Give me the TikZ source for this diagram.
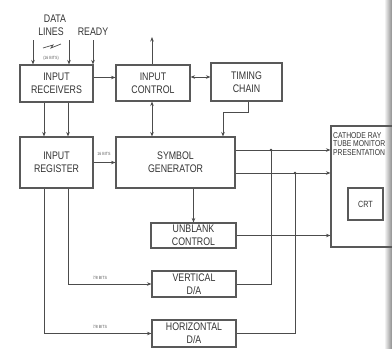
\documentclass[tikz,border=0pt]{standalone}
\usepackage{fontspec}
\setmainfont{Liberation Sans}[FakeStretch=0.8]
\usetikzlibrary{arrows.meta,calc}
\begin{document}
\begin{tikzpicture}[x=1pt,y=-1pt,
  line/.style={draw=black!70, line width=0.9pt},
  arr/.style={line, -{Stealth[length=4.5pt,width=3.5pt]}},
  darr/.style={line, {Stealth[length=4.5pt,width=3.5pt]}-{Stealth[length=4.5pt,width=3.5pt]}},
  box/.style={draw=black!65, line width=1.1pt, inner sep=0pt, align=center, font=\fontsize{11}{13}\selectfont, text=black!80},
  lbl/.style={font=\fontsize{11}{13}\selectfont, text=black!80, inner sep=0pt},
  tiny/.style={font=\fontsize{4.5}{5}\selectfont, text=black!65, inner sep=0pt},
  dot/.style={circle, fill=black!75, inner sep=0pt, minimum size=2.6pt}]
\useasboundingbox (0,0) rectangle (392,349);
\clip (0,0) rectangle (392,349);
\shade[left color=white, right color=black!45] (384,0) rectangle (392,349);

% top labels
\node[lbl] (data) at (55,19) {DATA};
\node[lbl] (lines) at (51,32) {LINES};
\node[lbl] (ready) at (93,32) {READY};

% boxes
\node[box, minimum width=73pt, minimum height=37pt] (recv) at (56.5,83.5) {INPUT\\RECEIVERS};
\node[box, minimum width=74pt, minimum height=36pt] (ic) at (153,83) {INPUT\\CONTROL};
\node[box, minimum width=71pt, minimum height=38pt] (tc) at (246.5,82) {TIMING\\CHAIN};
\node[box, minimum width=73pt, minimum height=51pt] (reg) at (56.5,162.5) {INPUT\\REGISTER};
\node[box, minimum width=119pt, minimum height=51pt] (sg) at (175.5,162.5) {SYMBOL\\GENERATOR};
\node[box, minimum width=85pt, minimum height=25pt] (ub) at (193.5,235.5) {UNBLANK\\CONTROL};
\node[box, minimum width=84pt, minimum height=26pt] (vda) at (194,284) {VERTICAL\\D/A};
\node[box, minimum width=84pt, minimum height=27pt] (hda) at (194,333.5) {HORIZONTAL\\D/A};
\node[box, minimum width=80pt, minimum height=121pt] (mon) at (371,186.5) {};
\node[anchor=north west, align=left, inner sep=0pt, text=black!80, font=\fontsize{8.5}{8.7}\selectfont] (montitle) at (333,132) {CATHODE RAY\\TUBE MONITOR\\PRESENTATION};
\node[box, minimum width=35pt, minimum height=32pt, font=\fontsize{9}{10}\selectfont] (crt) at (365.5,204) {CRT};

% input lines
\coordinate (d1) at (33,40);
\coordinate (d2) at (69,40);
\coordinate (rdy) at (93,40);
\draw[arr] (d1) -- (d1 |- recv.north);
\draw[arr] (d2) -- (d2 |- recv.north);
\draw[arr] (rdy) -- (rdy |- recv.north);
\draw[line, line width=0.7pt] (43,48) -- (53,45) -- (51,48) -- (61,44);
\node[tiny] (bits0) at (51,58) {(16 BITS)};

% input control
\coordinate (up) at (152,37);
\draw[arr] (ic.north -| up) -- (up);
\draw[arr] ([yshift=6pt]recv.east) -- ([yshift=6pt]recv.east -| ic.west);
\draw[darr] ([yshift=6pt]ic.east) -- ([yshift=6pt]ic.east -| tc.west);
\draw[arr] ([xshift=1.5pt]tc.south) -- ++(0,11) -| ([xshift=47.5pt]sg.north);
\draw[darr] (ic.south -| up) -- (sg.north -| up);

% receivers to register
\draw[arr] ([xshift=-12.5pt]recv.south) -- ([xshift=-12.5pt]reg.north);
\draw[arr] ([xshift=11.5pt]recv.south) -- ([xshift=11.5pt]reg.north);

% register to symbol generator
\draw[arr] (reg.east) -- (reg.east -| sg.west);
\node[tiny] (bits1) at (104,154) {16 BITS};

% symbol generator outputs
\draw[arr] ([yshift=12.5pt]sg.east) -- ([yshift=12.5pt]sg.east -| mon.west);
\draw[arr] ([yshift=-10.5pt]sg.east) -- ([yshift=-10.5pt]sg.east -| mon.west);
\draw[arr] (sg.south -| ub.north) -- (ub.north);
\draw[arr] (ub.east) -- (ub.east -| mon.west);

% D/A outputs
\node[dot] (j1) at (271,150) {};
\node[dot] (j2) at (295,173) {};
\draw[line] (vda.east) -| (j1.center);
\draw[line] (hda.east) -| (j2.center);

% register to D/A
\draw[arr] ([xshift=11.5pt]reg.south) |- (vda.west);
\draw[arr] ([xshift=-12.5pt]reg.south) |- (hda.west);
\node[tiny] (bits2) at (100,278) {7/8 BITS};
\node[tiny] (bits3) at (100,327) {7/8 BITS};
\end{tikzpicture}
\end{document}
